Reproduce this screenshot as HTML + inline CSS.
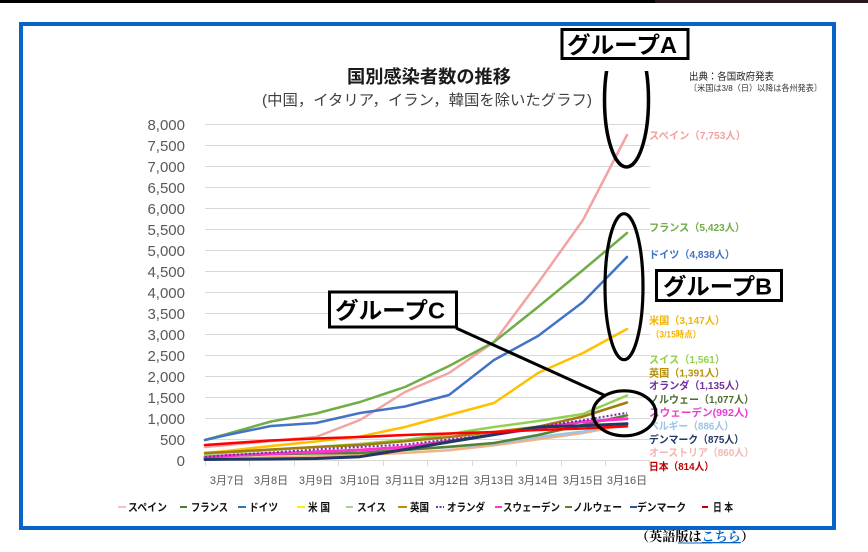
<!DOCTYPE html>
<html><head><meta charset="utf-8">
<style>
html,body{margin:0;padding:0;background:#fff;}
svg{display:block;}
text{font-family:"Liberation Sans","Noto Sans CJK JP",sans-serif;}
</style></head>
<body>
<svg width="868" height="552" viewBox="0 0 868 552" xmlns="http://www.w3.org/2000/svg">
<rect x="0" y="0" width="868" height="552" fill="#fff"/>
<rect x="0" y="0" width="868" height="3" fill="#000"/>
<rect x="655" y="0" width="213" height="3" fill="#2a1420"/>
<!-- blue frame -->
<rect x="21" y="24" width="813" height="504" fill="none" stroke="#0A63C6" stroke-width="4"/>

<!-- titles -->
<text x="347" y="83" font-size="18" font-weight="bold" fill="#1a1a1a" textLength="164" lengthAdjust="spacingAndGlyphs">国別感染者数の推移</text>
<text x="262" y="105" font-size="15" fill="#404040" textLength="330" lengthAdjust="spacingAndGlyphs">(中国，イタリア，イラン，韓国を除いたグラフ)</text>
<text x="689" y="80" font-size="10" fill="#222" textLength="85" lengthAdjust="spacingAndGlyphs">出典：各国政府発表</text>
<text x="689" y="91" font-size="8.5" fill="#333" textLength="133" lengthAdjust="spacingAndGlyphs">〔米国は3/8（日）以降は各州発表〕</text>

<!-- gridlines -->
<g stroke="#d9d9d9" stroke-width="1">
<line x1="205" y1="124.5" x2="650" y2="124.5"/>
<line x1="205" y1="145.5" x2="650" y2="145.5"/>
<line x1="205" y1="166.5" x2="650" y2="166.5"/>
<line x1="205" y1="187.5" x2="650" y2="187.5"/>
<line x1="205" y1="208.5" x2="650" y2="208.5"/>
<line x1="205" y1="229.5" x2="650" y2="229.5"/>
<line x1="205" y1="250.5" x2="650" y2="250.5"/>
<line x1="205" y1="271.5" x2="650" y2="271.5"/>
<line x1="205" y1="292.5" x2="650" y2="292.5"/>
<line x1="205" y1="313.5" x2="650" y2="313.5"/>
<line x1="205" y1="334.5" x2="650" y2="334.5"/>
<line x1="205" y1="355.5" x2="650" y2="355.5"/>
<line x1="205" y1="376.5" x2="650" y2="376.5"/>
<line x1="205" y1="397.5" x2="650" y2="397.5"/>
<line x1="205" y1="418.5" x2="650" y2="418.5"/>
<line x1="205" y1="439.5" x2="650" y2="439.5"/>
<line x1="205" y1="460.5" x2="650" y2="460.5"/>
</g>
<!-- ticks -->
<g stroke="#d9d9d9" stroke-width="1">
<line x1="205.5" y1="460" x2="205.5" y2="466"/>
<line x1="249.5" y1="460" x2="249.5" y2="466"/>
<line x1="294.5" y1="460" x2="294.5" y2="466"/>
<line x1="338.5" y1="460" x2="338.5" y2="466"/>
<line x1="383.5" y1="460" x2="383.5" y2="466"/>
<line x1="427.5" y1="460" x2="427.5" y2="466"/>
<line x1="472.5" y1="460" x2="472.5" y2="466"/>
<line x1="516.5" y1="460" x2="516.5" y2="466"/>
<line x1="561.5" y1="460" x2="561.5" y2="466"/>
<line x1="605.5" y1="460" x2="605.5" y2="466"/>
<line x1="649.5" y1="460" x2="649.5" y2="466"/>
</g>
<!-- y labels -->
<g font-size="15" fill="#595959" text-anchor="end">
<text x="185" y="130">8,000</text>
<text x="185" y="151">7,500</text>
<text x="185" y="172">7,000</text>
<text x="185" y="193">6,500</text>
<text x="185" y="214">6,000</text>
<text x="185" y="235">5,500</text>
<text x="185" y="256">5,000</text>
<text x="185" y="277">4,500</text>
<text x="185" y="298">4,000</text>
<text x="185" y="319">3,500</text>
<text x="185" y="340">3,000</text>
<text x="185" y="361">2,500</text>
<text x="185" y="382">2,000</text>
<text x="185" y="403">1,500</text>
<text x="185" y="424">1,000</text>
<text x="185" y="445">500</text>
<text x="185" y="466">0</text>
</g>
<!-- x labels -->
<g font-size="11" fill="#595959" text-anchor="middle">
<text x="227" y="484">3月7日</text>
<text x="271" y="484">3月8日</text>
<text x="316" y="484">3月9日</text>
<text x="360" y="484">3月10日</text>
<text x="405" y="484">3月11日</text>
<text x="449" y="484">3月12日</text>
<text x="494" y="484">3月13日</text>
<text x="538" y="484">3月14日</text>
<text x="583" y="484">3月15日</text>
<text x="627" y="484">3月16日</text>
</g>

<!-- series -->
<g fill="none" stroke-width="2.5" stroke-linejoin="round" stroke-linecap="round">
<polyline stroke="#F4A3A3" points="205,447 227,445 271,441 316,437 360,420 405,392 449,373 494,342 538,283 583,220 627,135"/>
<polyline stroke="#70AD47" points="205,440 227,434 271,421.5 316,413.5 360,402 405,387 449,366 494,342 538,307 583,270 627,233"/>
<polyline stroke="#4472C4" points="205,440 227,435 271,426 316,423 360,413 405,406.5 449,395 494,360 538,336 583,302 627,257"/>
<polyline stroke="#FFC000" points="205,453 227,451 271,446 316,441.5 360,436.5 405,427 449,415 494,403 538,373 583,353 627,329"/>
<polyline stroke="#F4B183" points="205,458.8 227,458.2 271,457.2 316,456.1 360,455 405,452.9 449,450.2 494,445.3 538,439.3 583,433 627,424.4"/>
<polyline stroke="#9DC3E6" points="205,457 227,455.9 271,453.4 316,452.1 360,450.5 405,449.3 449,447.3 494,443.7 538,437 583,431.6 627,423.3"/>
<polyline stroke="#92D050" points="205,454 227,452.5 271,450 316,447 360,444 405,440 449,434 494,427 538,421 583,414 627,395.5"/>
<polyline stroke="#A07D10" points="205,453 227,452 271,449.5 316,447 360,445 405,441.3 449,437 494,432 538,426.7 583,416.5 627,402.5"/>
<polyline stroke="#548235" points="205,457.5 227,455.8 271,454.3 316,453.4 360,453 405,450 449,446.7 494,443 538,435 583,424.8 627,415.3"/>
<polyline stroke="#FF33CC" stroke-width="3" points="205,457 227,455.7 271,453.7 316,451.9 360,450 405,447.1 449,441.1 494,434.5 538,428.1 583,421.7 627,418.8"/>
<polyline stroke="#7030A0" stroke-width="2" stroke-dasharray="2 2" stroke-linecap="butt" points="205,457 227,455.1 271,452.6 316,449.4 360,447 405,444.5 449,439.4 494,434.7 538,426.7 583,420.2 627,412.8"/>
<polyline stroke="#203864" stroke-width="3" points="205,459.5 227,459.2 271,459 316,458.5 360,456.7 405,449.5 449,442 494,434.7 538,427 583,425.8 627,423.8"/>
<polyline stroke="#FF0000" stroke-width="2.6" points="205,445 227,443.5 271,440.5 316,438.5 360,437 405,435 449,433.5 494,432 538,430 583,428.5 627,426.3"/>
</g>

<!-- series labels -->
<g font-size="10.5" font-weight="bold">
<text x="649" y="139" fill="#F4A09C" textLength="97" lengthAdjust="spacingAndGlyphs">スペイン（7,753人）</text>
<text x="649" y="231" fill="#70AD47" textLength="96" lengthAdjust="spacingAndGlyphs">フランス（5,423人）</text>
<text x="649" y="258" fill="#4472C4" textLength="86" lengthAdjust="spacingAndGlyphs">ドイツ（4,838人）</text>
<text x="649" y="324" fill="#F5B400" textLength="76" lengthAdjust="spacingAndGlyphs">米国（3,147人）</text>
<text x="651" y="337.5" fill="#F5B400" font-size="9" textLength="50" lengthAdjust="spacingAndGlyphs">（3/15時点）</text>
<text x="649" y="363" fill="#92D050" textLength="76" lengthAdjust="spacingAndGlyphs">スイス（1,561）</text>
<text x="649" y="376.5" fill="#B8900A" textLength="76" lengthAdjust="spacingAndGlyphs">英国（1,391人）</text>
<text x="649" y="389" fill="#7030A0" textLength="96" lengthAdjust="spacingAndGlyphs">オランダ（1,135人）</text>
<text x="649" y="403" fill="#4E6B2E" textLength="105" lengthAdjust="spacingAndGlyphs">ノルウェー（1,077人）</text>
<text x="649" y="416" fill="#E83ECF" textLength="99" lengthAdjust="spacingAndGlyphs">スウェーデン(992人)</text>
<text x="649" y="429.5" fill="#9DC3E6" textLength="85" lengthAdjust="spacingAndGlyphs">ベルギー（886人）</text>
<text x="649" y="443" fill="#1F3864" textLength="95" lengthAdjust="spacingAndGlyphs">デンマーク（875人）</text>
<text x="649" y="456" fill="#F4B6B0" textLength="105" lengthAdjust="spacingAndGlyphs">オーストリア（860人）</text>
<text x="649" y="470" fill="#C00000" textLength="65" lengthAdjust="spacingAndGlyphs">日本（814人）</text>
</g>

<!-- legend -->
<g font-size="11" font-weight="bold" fill="#111">
<line x1="118" y1="507" x2="126" y2="507" stroke="#F4C0C0" stroke-width="2"/>
<text x="128" y="511" textLength="39" lengthAdjust="spacingAndGlyphs">スペイン</text>
<line x1="180" y1="507" x2="187" y2="507" stroke="#4E7A3A" stroke-width="2"/>
<text x="191" y="511" textLength="37" lengthAdjust="spacingAndGlyphs">フランス</text>
<line x1="238" y1="507" x2="246" y2="507" stroke="#2E75B6" stroke-width="2"/>
<text x="249" y="511" textLength="29" lengthAdjust="spacingAndGlyphs">ドイツ</text>
<line x1="297" y1="507" x2="305" y2="507" stroke="#FFEE00" stroke-width="2"/>
<text x="308" y="511" textLength="22" lengthAdjust="spacingAndGlyphs">米 国</text>
<line x1="346" y1="507" x2="353" y2="507" stroke="#A9D18E" stroke-width="2"/>
<text x="357" y="511" textLength="29" lengthAdjust="spacingAndGlyphs">スイス</text>
<line x1="398" y1="507" x2="407" y2="507" stroke="#BF9000" stroke-width="2"/>
<text x="410" y="511" textLength="19" lengthAdjust="spacingAndGlyphs">英国</text>
<line x1="436" y1="507" x2="444" y2="507" stroke="#7030A0" stroke-width="2" stroke-dasharray="2 1.5"/>
<text x="447" y="511" textLength="38" lengthAdjust="spacingAndGlyphs">オランダ</text>
<line x1="495" y1="507" x2="502" y2="507" stroke="#FF33CC" stroke-width="2"/>
<text x="503" y="511" textLength="57" lengthAdjust="spacingAndGlyphs">スウェーデン</text>
<line x1="565" y1="507" x2="572" y2="507" stroke="#548235" stroke-width="2"/>
<text x="573" y="511" textLength="49" lengthAdjust="spacingAndGlyphs">ノルウェー</text>
<line x1="630" y1="507" x2="637" y2="507" stroke="#2F5597" stroke-width="2"/>
<text x="637" y="511" textLength="49" lengthAdjust="spacingAndGlyphs">デンマーク</text>
<line x1="702" y1="507" x2="708" y2="507" stroke="#C00000" stroke-width="2"/>
<text x="713" y="511" textLength="20" lengthAdjust="spacingAndGlyphs">日 本</text>
</g>

<!-- annotations -->
<defs><clipPath id="clipA"><rect x="590" y="71" width="80" height="120"/></clipPath></defs>
<ellipse cx="626.5" cy="100" rx="22" ry="67" fill="none" stroke="#000" stroke-width="3.5" clip-path="url(#clipA)"/>
<ellipse cx="624" cy="286.7" rx="19" ry="73" fill="none" stroke="#000" stroke-width="3.2"/>
<ellipse cx="624.3" cy="413.3" rx="31.5" ry="22.5" fill="none" stroke="#000" stroke-width="3.2"/>
<line x1="456" y1="328" x2="606" y2="396" stroke="#000" stroke-width="3"/>

<g font-size="23" font-weight="bold" fill="#000">
<rect x="562" y="29.5" width="126" height="29" fill="#fff" stroke="#000" stroke-width="3"/>
<text x="567" y="53" textLength="110" lengthAdjust="spacingAndGlyphs">グループA</text>
<rect x="656.5" y="270.5" width="125" height="30" fill="#fff" stroke="#000" stroke-width="3"/>
<text x="663" y="294.5" textLength="109" lengthAdjust="spacingAndGlyphs">グループB</text>
<rect x="329.5" y="292" width="127" height="35" fill="#fff" stroke="#000" stroke-width="3"/>
<text x="335" y="318.5" textLength="110" lengthAdjust="spacingAndGlyphs">グループC</text>
</g>

<!-- bottom link -->
<text x="636" y="541" font-size="13" font-weight="bold" fill="#000" style="font-family:'Liberation Serif','Noto Serif CJK SC',serif" textLength="118" lengthAdjust="spacingAndGlyphs">（英語版は<tspan fill="#0563C1" text-decoration="underline">こちら</tspan>）</text>
<line x1="678" y1="543" x2="712" y2="543" stroke="#0563C1" stroke-width="1"/>
</svg>
</body></html>
